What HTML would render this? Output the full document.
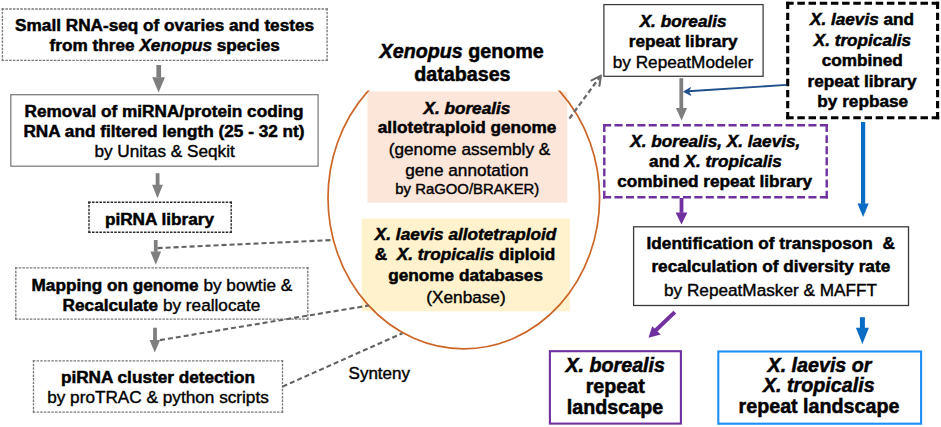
<!DOCTYPE html>
<html><head><meta charset="utf-8">
<style>
html,body{margin:0;padding:0;background:#fff;}
body{width:941px;height:427px;overflow:hidden;}
svg{display:block;font-family:"Liberation Sans",sans-serif;}
.b{font-weight:bold;stroke-width:0.5px;}
.i{font-style:italic;}
text{fill:#000;stroke:#000;stroke-width:0.4px;}
text.b,tspan.b{stroke-width:0.5px;}
</style></head>
<body>
<svg width="941" height="427" viewBox="0 0 941 427">
<defs>
  <clipPath id="ecl"><rect x="0" y="90.6" width="941" height="400"/></clipPath>
</defs>
<g stroke="#7a7a7a" stroke-width="1.35" fill="none"><line x1="1.72" y1="9.00" x2="327.77" y2="9.00" stroke-dasharray="2.513 1.206"/><line x1="327.10" y1="8.32" x2="327.10" y2="60.97" stroke-dasharray="2.424 1.164"/><line x1="327.77" y1="60.30" x2="1.72" y2="60.30" stroke-dasharray="2.513 1.206"/><line x1="2.40" y1="60.97" x2="2.40" y2="8.32" stroke-dasharray="2.424 1.164"/></g>
<rect x="10.8" y="94.7" width="307.3" height="71.5" fill="none" stroke="#808080" stroke-width="1.3"/>
<g stroke="#2a2a2a" stroke-width="1.4" fill="none"><line x1="88.30" y1="202.20" x2="231.90" y2="202.20" stroke-dasharray="2.509 1.204"/><line x1="231.20" y1="201.50" x2="231.20" y2="232.90" stroke-dasharray="2.445 1.174"/><line x1="231.90" y1="232.20" x2="88.30" y2="232.20" stroke-dasharray="2.509 1.204"/><line x1="89.00" y1="232.90" x2="89.00" y2="201.50" stroke-dasharray="2.445 1.174"/></g>
<g stroke="#7a7a7a" stroke-width="1.35" fill="none"><line x1="15.12" y1="267.80" x2="308.48" y2="267.80" stroke-dasharray="2.488 1.194"/><line x1="307.80" y1="267.12" x2="307.80" y2="319.78" stroke-dasharray="2.424 1.164"/><line x1="308.48" y1="319.10" x2="15.12" y2="319.10" stroke-dasharray="2.488 1.194"/><line x1="15.80" y1="319.78" x2="15.80" y2="267.12" stroke-dasharray="2.424 1.164"/></g>
<g stroke="#7a7a7a" stroke-width="1.35" fill="none"><line x1="32.83" y1="360.80" x2="283.18" y2="360.80" stroke-dasharray="2.500 1.200"/><line x1="282.50" y1="360.12" x2="282.50" y2="412.78" stroke-dasharray="2.424 1.164"/><line x1="283.18" y1="412.10" x2="32.83" y2="412.10" stroke-dasharray="2.500 1.200"/><line x1="33.50" y1="412.78" x2="33.50" y2="360.12" stroke-dasharray="2.424 1.164"/></g>
<g fill="#7f7f7f">
  <rect x="156.4" y="65" width="4.7" height="12.5"/>
  <polygon points="152.2,77.2 165,77.2 158.6,92.4"/>
  <rect x="155.7" y="173.2" width="3.8" height="11.8"/>
  <polygon points="152.1,184.8 162.9,184.8 157.5,198.2"/>
  <rect x="153.9" y="240" width="3.7" height="11.8"/>
  <polygon points="150.4,251.6 161.1,251.6 155.8,264.8"/>
  <rect x="153.1" y="327.7" width="3.8" height="12.5"/>
  <polygon points="149.5,340.1 160.1,340.1 154.8,352.4"/>
</g>
<rect x="367.5" y="91.5" width="199.8" height="111.2" fill="#fce5d9"/>
<rect x="361.6" y="218.7" width="208.2" height="92.7" fill="#fff2cc"/>
<ellipse cx="463.8" cy="198" rx="135.8" ry="150.8" fill="none" stroke="#cc6526" stroke-width="1.7" clip-path="url(#ecl)"/>
<g stroke="#636363" stroke-width="2.1" stroke-dasharray="5 3" fill="none">
  <line x1="157.6" y1="248.1" x2="333.1" y2="240"/>
  <line x1="160" y1="340.1" x2="368.9" y2="305.5"/>
  <line x1="282.6" y1="386.6" x2="402.4" y2="333.3"/>
</g>
<g stroke="#6a6a6a" stroke-width="2.3" fill="none">
  <line x1="569.4" y1="118.5" x2="600.3" y2="76.4" stroke-dasharray="5 3"/>
  <polyline points="591.6,80.4 600.9,75.6 599.4,85.8" stroke-width="2.1" stroke-linejoin="round" stroke-linecap="round"/>
</g>
<rect x="603.9" y="4.6" width="159.2" height="71.7" fill="none" stroke="#3a3a3a" stroke-width="1.25"/>
<g stroke="#000" stroke-width="3.1" fill="none"><line x1="786.15" y1="3.20" x2="939.15" y2="3.20" stroke-dasharray="7.495 3.698"/><line x1="937.60" y1="1.65" x2="937.60" y2="119.35" stroke-dasharray="7.387 3.644"/><line x1="939.15" y1="117.80" x2="786.15" y2="117.80" stroke-dasharray="7.495 3.698"/><line x1="787.70" y1="119.35" x2="787.70" y2="1.65" stroke-dasharray="7.387 3.644"/></g>
<g fill="#7f7f7f">
  <rect x="679.4" y="78.2" width="3.8" height="30"/>
  <polygon points="675.9,108 687.1,108 681.6,120.6"/>
</g>
<line x1="786.5" y1="84.9" x2="688" y2="91.3" stroke="#1f4e8c" stroke-width="1.9"/>
<polygon points="683.6,91.7 690.6,87.6 688.6,91.4 690.8,95.4" fill="#1f4e8c" stroke="#1f4e8c" stroke-width="0.8" stroke-linejoin="round"/>
<g stroke="#7030a0" stroke-width="2.4" fill="none"><line x1="603.10" y1="125.30" x2="827.90" y2="125.30" stroke-dasharray="8.075 3.331"/><line x1="826.70" y1="124.10" x2="826.70" y2="198.50" stroke-dasharray="7.852 3.239"/><line x1="827.90" y1="197.30" x2="603.10" y2="197.30" stroke-dasharray="8.075 3.331"/><line x1="604.30" y1="198.50" x2="604.30" y2="124.10" stroke-dasharray="7.852 3.239"/></g>
<g fill="#7030a0">
  <rect x="679.6" y="198" width="3.8" height="14.8"/>
  <polygon points="675.6,212.6 687.4,212.6 681.5,224.6"/>
</g>
<g fill="#0b6cc6">
  <rect x="861" y="122" width="4.2" height="81.8"/>
  <polygon points="857.5,203.5 868.7,203.5 863.1,217.1"/>
</g>
<rect x="633.6" y="226.8" width="274.9" height="78.7" fill="none" stroke="#3a3a3a" stroke-width="1.3"/>
<line x1="674.8" y1="312.1" x2="655" y2="331" stroke="#7030a0" stroke-width="4"/>
<polygon points="648.5,337.7 652.2,326.2 660.7,334.6" fill="#7030a0"/>
<g fill="#0b6cc6">
  <rect x="859.9" y="317.2" width="5" height="10.8"/>
  <polygon points="855.9,327.8 868.9,327.8 862.4,343.9"/>
</g>
<rect x="549.9" y="351.2" width="131" height="72.4" fill="none" stroke="#7030a0" stroke-width="2.1"/>
<rect x="718.3" y="351.5" width="202.8" height="72.2" fill="none" stroke="#1e8ef5" stroke-width="2.1"/>
<g transform="translate(0,0.3)">
<text class="b" x="164.6" y="30.8" font-size="17.2" text-anchor="middle">Small RNA-seq of ovaries and testes</text>
<text class="b" x="164.7" y="51.0" font-size="17.2" text-anchor="middle">from three <tspan class="i">Xenopus</tspan> species</text>
<text class="b" x="164.0" y="116.5" font-size="17.2" text-anchor="middle">Removal of miRNA/protein coding</text>
<text class="b" x="164.0" y="136.6" font-size="17.2" text-anchor="middle">RNA and filtered length (25 - 32 nt)</text>
<text x="164.6" y="156.6" font-size="17.2" text-anchor="middle">by Unitas &amp; Seqkit</text>
<text class="b" x="159.5" y="224.7" font-size="17.2" text-anchor="middle">piRNA library</text>
<text x="161.9" y="290.4" font-size="17.2" text-anchor="middle"><tspan class="b">Mapping on genome</tspan> by bowtie &amp;</text>
<text x="161.5" y="310.9" font-size="17.2" text-anchor="middle"><tspan class="b">Recalculate</tspan> by reallocate</text>
<text class="b" x="158.0" y="382.9" font-size="17.2" text-anchor="middle">piRNA cluster detection</text>
<text x="158.0" y="402.9" font-size="17.2" text-anchor="middle">by proTRAC &amp; python scripts</text>
<text x="379.3" y="379.0" font-size="17" text-anchor="middle">Synteny</text>
<text class="b" x="461.6" y="57.3" font-size="19.7" text-anchor="middle"><tspan class="i">Xenopus</tspan> genome</text>
<text class="b" x="462.4" y="80.4" font-size="19.7" text-anchor="middle">databases</text>
<text class="b" x="466.9" y="113.4" font-size="17.2" text-anchor="middle"><tspan class="i">X. borealis</tspan></text>
<text class="b" x="467.1" y="133.0" font-size="17.2" text-anchor="middle">allotetraploid genome</text>
<text x="469.5" y="155.2" font-size="17.2" text-anchor="middle">(genome assembly &amp;</text>
<text x="466.9" y="175.8" font-size="17.2" text-anchor="middle">gene annotation</text>
<text x="467.3" y="194.0" font-size="14.9" text-anchor="middle">by RaGOO/BRAKER)</text>
<text class="b" x="465.6" y="240.2" font-size="17.2" text-anchor="middle"><tspan class="i">X. laevis allotetraploid</tspan></text>
<text class="b" x="465.0" y="259.6" font-size="17.2" text-anchor="middle" xml:space="preserve">&amp;  <tspan class="i">X. tropicalis</tspan> diploid</text>
<text class="b" x="465.6" y="280.4" font-size="17.2" text-anchor="middle">genome databases</text>
<text x="466.0" y="303.2" font-size="17.2" text-anchor="middle">(Xenbase)</text>
<text class="b" x="683.1" y="26.5" font-size="17.2" text-anchor="middle"><tspan class="i">X. borealis</tspan></text>
<text class="b" x="683.2" y="46.6" font-size="17.2" text-anchor="middle">repeat library</text>
<text x="683.0" y="67.4" font-size="17.2" text-anchor="middle">by RepeatModeler</text>
<text class="b" x="862.0" y="25.2" font-size="17.2" text-anchor="middle"><tspan class="i">X. laevis</tspan> and</text>
<text class="b" x="862.4" y="45.3" font-size="17.2" text-anchor="middle"><tspan class="i">X. tropicalis</tspan></text>
<text class="b" x="862.3" y="65.9" font-size="17.2" text-anchor="middle">combined</text>
<text class="b" x="862.0" y="86.7" font-size="17.2" text-anchor="middle">repeat library</text>
<text class="b" x="862.7" y="107.2" font-size="17.2" text-anchor="middle">by repbase</text>
<text class="b" x="715.3" y="146.6" font-size="17.2" text-anchor="middle"><tspan class="i">X. borealis, X. laevis,</tspan></text>
<text class="b" x="715.5" y="166.6" font-size="17.2" text-anchor="middle">and <tspan class="i">X. tropicalis</tspan></text>
<text class="b" x="714.7" y="186.7" font-size="17.2" text-anchor="middle">combined repeat library</text>
<text class="b" x="770.7" y="248.8" font-size="17.2" text-anchor="middle" xml:space="preserve">Identification of transposon  &amp;</text>
<text class="b" x="770.8" y="271.7" font-size="17.2" text-anchor="middle">recalculation of diversity rate</text>
<text x="770.5" y="295.4" font-size="17.2" text-anchor="middle">by RepeatMasker &amp; MAFFT</text>
<text class="b" x="615.2" y="371.7" font-size="19.7" text-anchor="middle"><tspan class="i">X. borealis</tspan></text>
<text class="b" x="615.2" y="392.9" font-size="19.7" text-anchor="middle">repeat</text>
<text class="b" x="615.0" y="413.4" font-size="19.7" text-anchor="middle">landscape</text>
<text class="b" x="819.5" y="371.6" font-size="19.7" text-anchor="middle"><tspan class="i">X. laevis or</tspan></text>
<text class="b" x="818.8" y="392.2" font-size="19.7" text-anchor="middle"><tspan class="i">X. tropicalis</tspan></text>
<text class="b" x="819.0" y="412.9" font-size="19.7" text-anchor="middle">repeat landscape</text>
</g>
</svg>
</body></html>
